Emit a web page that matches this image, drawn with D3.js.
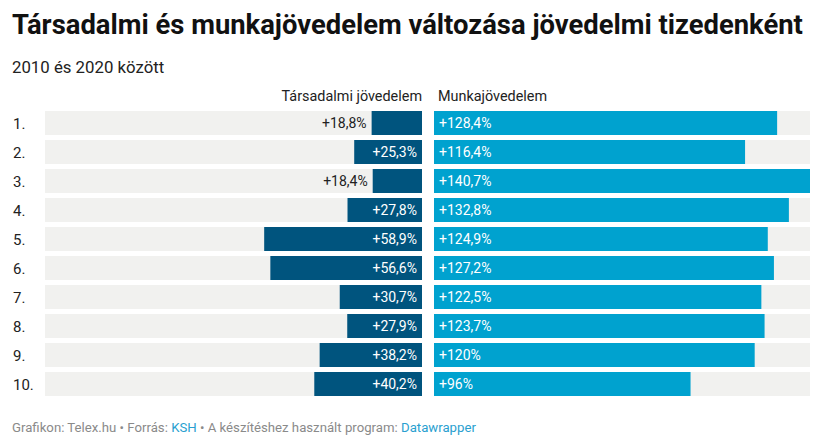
<!DOCTYPE html>
<html>
<head>
<meta charset="utf-8">
<script src="https://cdn.jsdelivr.net/npm/d3@7"></script>
<style>
body { margin: 0; background: #fff; font-family: Roboto, sans-serif; }
</style>
</head>
<body>
<div id="content"></div>
<script>
var deciles = ["1.", "2.", "3.", "4.", "5.", "6.", "7.", "8.", "9.", "10."];
var social = [18.8, 25.3, 18.4, 27.8, 58.9, 56.6, 30.7, 27.9, 38.2, 40.2];
var work = [128.4, 116.4, 140.7, 132.8, 124.9, 127.2, 122.5, 123.7, 120, 96];
var headers = ["Társadalmi jövedelem", "Munkajövedelem"];

function fmt(v){
    return "+" + String(v).replace(".", ",") + "%";
}

var W = 827, H = 448;
var svg = d3.select('#content').append('svg')
    .attr('width', W).attr('height', H);

svg.append('text').attr('x', 12).attr('y', 34)
    .attr('font-size', 27.4).attr('font-weight', 700).attr('fill', '#111')
    .text("Társadalmi és munkajövedelem változása jövedelmi tizedenként");
svg.append('text').attr('x', 12).attr('y', 73)
    .attr('font-size', 16.8).attr('fill', '#222')
    .text("2010 és 2020 között");

var maxv = d3.max(social.concat(work));
var leftX = d3.scaleLinear().domain([0, maxv]).range([422, 45]);
var rightX = d3.scaleLinear().domain([0, maxv]).range([434, 810]);
// step 29, bar height 24
var y = d3.scaleBand().domain(deciles).range([111, 396]).paddingInner(5 / 29.0);

svg.append('text').attr('x', 422).attr('y', 101).attr('text-anchor', 'end')
    .attr('font-size', 14.4).attr('fill', '#222').text(headers[0]);
svg.append('text').attr('x', 438).attr('y', 101)
    .attr('font-size', 14.4).attr('fill', '#222').text(headers[1]);

var rows = svg.append('g').selectAll('g')
    .data(deciles).enter().append('g');

rows.append('text').attr('x', 13)
    .attr('y', function(d){ return y(d) + y.bandwidth() / 2 + 5.5; })
    .attr('font-size', 15).attr('fill', '#222')
    .text(function(d){ return d; });

// backgrounds
rows.append('rect').attr('x', leftX(maxv)).attr('width', leftX(0) - leftX(maxv))
    .attr('y', function(d){ return y(d); }).attr('height', y.bandwidth())
    .attr('fill', '#f1f1ef');
rows.append('rect').attr('x', rightX(0)).attr('width', rightX(maxv) - rightX(0))
    .attr('y', function(d){ return y(d); }).attr('height', y.bandwidth())
    .attr('fill', '#f1f1ef');

// social bars
rows.append('rect')
    .attr('x', function(d, i){ return leftX(social[i]); })
    .attr('width', function(d, i){ return leftX(0) - leftX(social[i]); })
    .attr('y', function(d){ return y(d); }).attr('height', y.bandwidth())
    .attr('fill', '#00547e');
rows.append('text')
    .attr('x', function(d, i){
        var w = leftX(0) - leftX(social[i]);
        return w > 62 ? leftX(0) - 5 : leftX(social[i]) - 5;
    })
    .attr('y', function(d){ return y(d) + y.bandwidth() / 2 + 5; })
    .attr('text-anchor', 'end').attr('font-size', 14)
    .attr('fill', function(d, i){ return (leftX(0) - leftX(social[i])) > 62 ? '#fff' : '#222'; })
    .text(function(d, i){ return fmt(social[i]); });

// work bars
rows.append('rect')
    .attr('x', rightX(0))
    .attr('width', function(d, i){ return rightX(work[i]) - rightX(0); })
    .attr('y', function(d){ return y(d); }).attr('height', y.bandwidth())
    .attr('fill', '#00a2cf');
rows.append('text').attr('x', rightX(0) + 5)
    .attr('y', function(d){ return y(d) + y.bandwidth() / 2 + 5; })
    .attr('font-size', 14).attr('fill', '#fff')
    .text(function(d, i){ return fmt(work[i]); });

var foot = svg.append('text').attr('x', 12).attr('y', 432)
    .attr('font-size', 13.2).attr('fill', '#8a8a8a');
foot.append('tspan').text("Grafikon: Telex.hu • Forrás: ");
foot.append('tspan').attr('fill', '#2a9fd0').text("KSH");
foot.append('tspan').text(" • A készítéshez használt program: ");
foot.append('tspan').attr('fill', '#2a9fd0').text("Datawrapper");
</script>
</body>
</html>
